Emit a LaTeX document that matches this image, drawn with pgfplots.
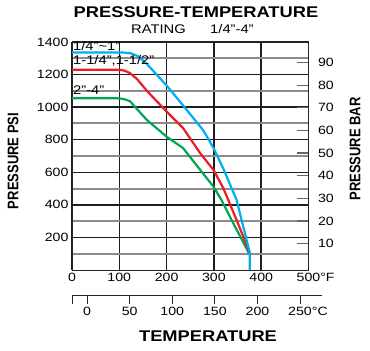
\documentclass[border=0pt]{standalone}
\usepackage{fontspec}
\setmainfont[FakeStretch=1.18]{Liberation Sans}
\newfontfamily\plainsans{Liberation Sans}
\usepackage{pgfplots}
\pgfplotsset{compat=1.18}
\definecolor{cblue}{RGB}{0,174,239}
\definecolor{cred}{RGB}{237,28,36}
\definecolor{cgreen}{RGB}{0,166,81}
\definecolor{gdark}{RGB}{30,30,30}
\definecolor{glight}{RGB}{140,140,140}
\newcommand{\tfont}{\fontsize{12bp}{14bp}\selectfont}
\begin{document}
\begin{tikzpicture}
\path[use as bounding box] (0,0) rectangle (370bp,351bp);
\begin{axis}[
  at={(72bp,81bp)}, anchor=south west, scale only axis,
  width=236.5bp, height=228bp,
  xmin=0, xmax=500, ymin=0, ymax=1400,
  xtick={0,100,...,500},
  xticklabels={0,100,200,300,400,500\rlap{°F}},
  ytick={200,400,...,1400},
  minor ytick={100,300,...,1300},
  grid=both,
  major grid style={draw=gdark, line width=1.5bp},
  minor grid style={draw=glight, line width=2bp},
  major tick length=0pt, minor tick length=0pt,
  axis line style={black!85, line width=1bp},
  tick label style={font=\tfont},
  /pgf/number format/assume math mode=true,
  /pgf/number format/1000 sep={},
]
\addplot[cgreen, line width=2.2bp] coordinates {
 (0,1055) (92,1055) (105,1052) (115,1045) (123,1035) (140,980) (158,922)
 (200,819) (235,748) (271,615) (299,512) (316,430) (341,287) (374,104)};
\addplot[cred, line width=2.2bp] coordinates {
 (0,1230) (95,1230) (110,1225) (122,1210) (137,1174) (160,1095)
 (200,973) (235,871) (271,717) (299,615) (320,502) (348,307) (376,104)};
\addplot[cblue, line width=2.2bp] coordinates {
 (0,1335) (110,1335) (125,1330) (140,1312) (158,1266) (200,1133)
 (235,1010) (278,856) (299,750) (320,622) (348,430) (376,104) (376,0)};
\node[anchor=base west, inner sep=0, font=\fontsize{12.5bp}{14bp}\selectfont] at (axis cs:2,1346) {1/4"\textasciitilde1"};
\node[anchor=base west, inner sep=0, font=\fontsize{12.5bp}{14bp}\selectfont] at (axis cs:2,1260) {1-1/4",1-1/2"};
\node[anchor=base west, inner sep=0, font=\fontsize{12.5bp}{14bp}\selectfont] at (axis cs:2,1075) {2"-4"};
\end{axis}
\begin{axis}[
  at={(72bp,81bp)}, anchor=south west, scale only axis,
  width=236.5bp, height=228bp,
  xmin=0, xmax=500, ymin=-1.62, ymax=99.03,
  axis y line*=right, hide x axis,
  y axis line style={-, black!85, line width=1bp},
  ytick={10,20,...,90},
  tick align=inside, major tick length=12bp,
  tick style={black!60, line width=1.2bp},
  yticklabel style={font=\tfont, xshift=6bp},
  /pgf/number format/assume math mode=true,
]
\end{axis}
\begin{axis}[
  at={(72bp,55bp)}, anchor=south west, scale only axis,
  width=250bp, height=5bp,
  xmin=-17.78, xmax=275.8, ymin=0, ymax=1,
  axis x line*=bottom, hide y axis,
  x axis line style={-, black!85, line width=1bp},
  xtick={-17.78,0,50,100,150,200,250},
  xticklabels={,0,50,100,150,200,250\rlap{°C}},
  tick align=outside, major tick length=8bp,
  tick style={black!85, line width=1bp},
  xticklabel style={font=\tfont},
  /pgf/number format/assume math mode=true,
]
\end{axis}
\node[anchor=base, font=\fontsize{15.5bp}{17bp}\selectfont\bfseries] at (196bp,333.5bp) {PRESSURE-TEMPERATURE};
\node[anchor=base west, inner sep=0, font=\fontsize{12.5bp}{14bp}\selectfont] at (131bp,317bp) {RATING};
\node[anchor=base west, inner sep=0, font=\fontsize{12.5bp}{14bp}\selectfont] at (210bp,317bp) {1/4"-4"};
\node[anchor=base, font=\fontsize{15.5bp}{17bp}\selectfont\bfseries] at (208bp,9.3bp) {TEMPERATURE};
\node[rotate=90, font=\plainsans\bfseries\fontsize{13bp}{15bp}\selectfont] at (13bp,190bp) {\scalebox{1}[1.18]{PRESSURE PSI}};
\node[rotate=90, font=\plainsans\bfseries\fontsize{13bp}{15bp}\selectfont] at (355bp,202bp) {\scalebox{1}[1.18]{PRESSURE BAR}};
\end{tikzpicture}
\end{document}
